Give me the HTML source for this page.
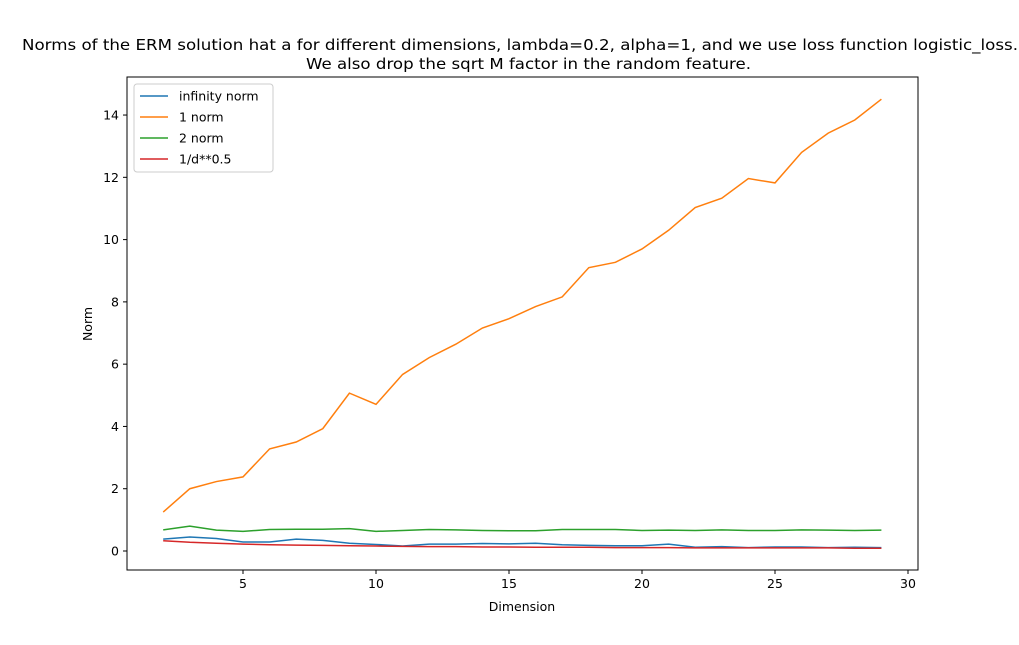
<!DOCTYPE html>
<html><head><meta charset="utf-8"><style>
body{margin:0;background:#fff;font-family:"DejaVu Sans","Liberation Sans",sans-serif;}
</style></head><body>
<svg id="chart" width="1019" height="641" xmlns="http://www.w3.org/2000/svg">
<text x="22" y="50" font-size="15" textLength="996" lengthAdjust="spacingAndGlyphs">Norms of the ERM solution hat a for different dimensions, lambda=0.2, alpha=1, and we use loss function logistic_loss.</text>
<text x="306" y="69" font-size="15" textLength="445" lengthAdjust="spacingAndGlyphs">We also drop the sqrt M factor in the random feature.</text>
<g id="plot"></g>
<text x="522" y="611" font-size="12.5" text-anchor="middle">Dimension</text>
<text transform="translate(92,324) rotate(-90)" font-size="12.5" text-anchor="middle">Norm</text>
</svg>
<script>
const dims=[2,3,4,5,6,7,8,9,10,11,12,13,14,15,16,17,18,19,20,21,22,23,24,25,26,27,28,29];
const infNorm=[0.38,0.45,0.4,0.29,0.29,0.38,0.34,0.25,0.21,0.16,0.22,0.22,0.24,0.23,0.25,0.2,0.18,0.17,0.17,0.22,0.12,0.14,0.11,0.13,0.13,0.11,0.12,0.11];
const oneNorm=[1.25,2.0,2.23,2.38,3.28,3.5,3.93,5.07,4.71,5.67,6.21,6.64,7.16,7.46,7.85,8.16,9.1,9.27,9.7,10.3,11.03,11.33,11.96,11.82,12.8,13.42,13.84,14.51];
const twoNorm=[0.68,0.8,0.67,0.63,0.69,0.7,0.7,0.72,0.63,0.66,0.69,0.68,0.66,0.65,0.65,0.69,0.69,0.69,0.66,0.67,0.66,0.68,0.66,0.66,0.68,0.67,0.66,0.67];
const invSqrt=[0.33,0.28,0.25,0.22,0.2,0.19,0.18,0.17,0.16,0.15,0.14,0.14,0.13,0.13,0.12,0.12,0.12,0.11,0.11,0.11,0.1,0.1,0.1,0.1,0.1,0.1,0.09,0.09];
const xTicks=[5,10,15,20,25,30];
const yTicks=[0,2,4,6,8,10,12,14];
const NS="http://www.w3.org/2000/svg";
const L=127,R=918,T=77,B=570;
const xs=v=>243+(v-5)*26.6;
const ys=v=>551-v*31.14;
const g=document.getElementById('plot');
function mk(t,a){const e=document.createElementNS(NS,t);for(const k in a)e.setAttribute(k,a[k]);g.appendChild(e);return e;}
const frame=mk('rect',{x:L,y:T,width:R-L,height:B-T,fill:'none',stroke:'#000','stroke-width':1});


xTicks.forEach(v=>{const x=xs(v);
const t=mk('line',{x1:x,x2:x,y1:B,y2:B+4,stroke:'#000'});


const l=mk('text',{x:x,y:B+18,'font-size':12.5,'text-anchor':'middle'});l.textContent=v;

});
yTicks.forEach(v=>{const y=ys(v);
const t=mk('line',{x1:L-4,x2:L,y1:y,y2:y,stroke:'#000'});


const l=mk('text',{x:L-8,y:y+4.5,'font-size':12.5,'text-anchor':'end'});l.textContent=v;

});
const series=[[infNorm,'#1f77b4','infinity norm','infinity-norm-line'],[oneNorm,'#ff7f0e','1 norm','one-norm-line'],[twoNorm,'#2ca02c','2 norm','two-norm-line'],[invSqrt,'#d62728','1/d**0.5','inv-sqrt-line']];
series.forEach(s=>{const p=mk('polyline',{points:dims.map((d,i)=>xs(d)+','+ys(s[0][i])).join(' '),fill:'none',stroke:s[1],'stroke-width':1.5});

});
const lg=mk('rect',{x:134,y:84,width:139,height:88,rx:3,fill:'#fff',stroke:'#ccc'});


series.forEach((s,i)=>{const y=96+i*21;
const ln=mk('line',{x1:140,x2:168,y1:y,y2:y,stroke:s[1],'stroke-width':1.5});


const t=mk('text',{x:179,y:y+4.5,'font-size':12.5});t.textContent=s[2];

});
</script>
</body></html>
